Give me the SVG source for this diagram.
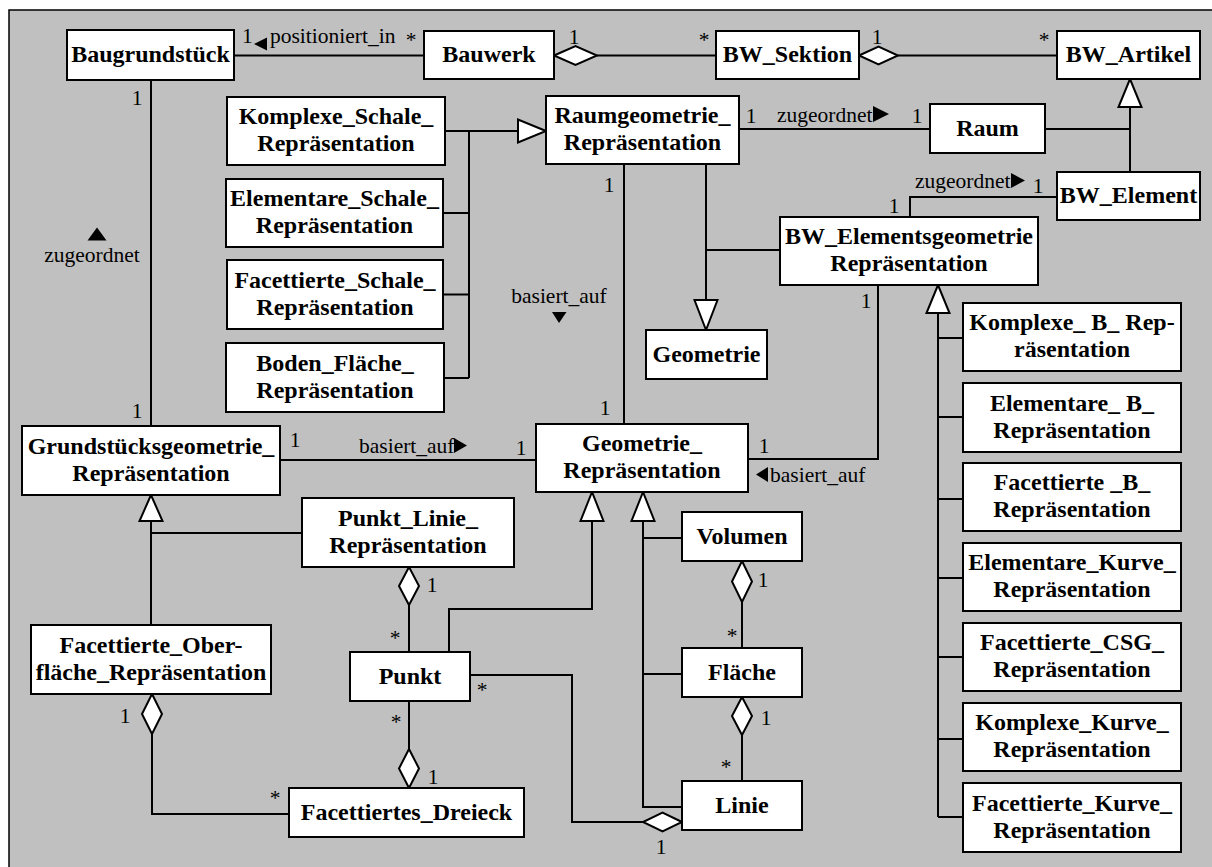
<svg xmlns="http://www.w3.org/2000/svg" width="1212" height="867" viewBox="0 0 1212 867" font-family="'Liberation Serif', 'Times New Roman', serif">
  <style>
    .frame { fill: #c0c0c0; stroke: #000; stroke-width: 1.5; }
    .box { fill: #fff; stroke: #000; stroke-width: 2; }
    .n { font-family: 'Liberation Serif', 'Times New Roman', serif; font-weight: bold; font-size: 24px; text-anchor: middle; fill: #000; }
    .l { font-family: 'Liberation Serif', 'Times New Roman', serif; font-size: 21.5px; fill: #000; }
    .m { text-anchor: middle; }
    .c { fill: none; stroke: #000; stroke-width: 2; }
    .hollow { fill: #fff; stroke: #000; stroke-width: 2; stroke-linejoin: miter; }
    .solid { fill: #000; }
  </style>

  <rect width="1212" height="867" fill="#fff"/>
  <rect class="frame" x="9" y="10" width="1210" height="865"/>

  <!-- connectors -->
  <g id="connectors">
    <!-- top row associations / aggregations -->
    <path class="c" d="M234 55.5 H424"/>
    <path class="c" d="M597 55.5 H716"/>
    <path class="c" d="M898 55.5 H1057"/>
    <polygon class="hollow" points="554,55.5 575.5,46 597,55.5 575.5,65"/>
    <polygon class="hollow" points="859,55.5 878.5,46.5 898,55.5 878.5,64.5"/>

    <!-- Baugrundstück to Grundstücksgeometrie -->
    <path class="c" d="M151 80 V426"/>

    <!-- shell representations generalize Raumgeometrie -->
    <path class="c" d="M445 131 H518"/>
    <path class="c" d="M469 131 V378"/>
    <path class="c" d="M443 213 H469"/>
    <path class="c" d="M443 294.5 H469"/>
    <path class="c" d="M444 378 H469"/>
    <polygon class="hollow" points="546,131 518,119.5 518,142.5"/>

    <!-- Raum / BW_Element / BW_Artikel -->
    <path class="c" d="M739 129 H930"/>
    <path class="c" d="M1045 129 H1130"/>
    <path class="c" d="M1130 107 V172"/>
    <polygon class="hollow" points="1130,79 1118.5,107 1141.5,107"/>
    <path class="c" d="M1057 197 H910 V217"/>

    <!-- Raumgeometrie down -->
    <path class="c" d="M624 164 V424"/>
    <path class="c" d="M706 164 V300"/>
    <path class="c" d="M706 250 H780"/>
    <polygon class="hollow" points="706,330 694.5,300 717.5,300"/>

    <!-- basiert_auf links to Geometrie_Repräsentation -->
    <path class="c" d="M280 460 H536"/>
    <path class="c" d="M748 459 H878 V285"/>

    <!-- BW_Elementsgeometrie specializations -->
    <polygon class="hollow" points="938,285 926.5,313 949.5,313"/>
    <path class="c" d="M938 313 V817"/>
    <path class="c" d="M938 338 H963 M938 417 H963 M938 499 H963 M938 578 H963 M938 657 H963 M938 739 H963 M938 817 H963"/>

    <!-- Grundstücksgeometrie specializations -->
    <polygon class="hollow" points="151,495 139.5,521 162.5,521"/>
    <path class="c" d="M151 521 V625"/>
    <path class="c" d="M151 533 H302"/>

    <!-- Geometrie_Repräsentation specializations -->
    <polygon class="hollow" points="592,492 580.5,521 603.5,521"/>
    <polygon class="hollow" points="643,492 631.5,521 654.5,521"/>
    <path class="c" d="M449 652 V609 H592 V521"/>
    <path class="c" d="M643 521 V807 H682"/>
    <path class="c" d="M643 538 H682"/>
    <path class="c" d="M643 674 H682"/>

    <!-- Punkt aggregations -->
    <polygon class="hollow" points="409,567 419,586 409,605 399,586"/>
    <path class="c" d="M409 605 V652"/>
    <path class="c" d="M409 701 V749"/>
    <polygon class="hollow" points="409,749 419,768.5 409,788 399,768.5"/>
    <path class="c" d="M470 675 H572 V822 H643"/>
    <polygon class="hollow" points="682,822 662.5,812.5 643,822 662.5,831.5"/>

    <!-- Facettierte_Oberfläche aggregation -->
    <polygon class="hollow" points="152,694 162,714 152,734 142,714"/>
    <path class="c" d="M152 734 V814 H289"/>

    <!-- Volumen / Fläche / Linie aggregations -->
    <polygon class="hollow" points="742,561 752,581.5 742,602 732,581.5"/>
    <path class="c" d="M742 602 V648"/>
    <polygon class="hollow" points="742,697 752,716 742,735 732,716"/>
    <path class="c" d="M742 735 V781"/>

    <!-- direction markers -->
    <polygon class="solid" points="254,44 267,37.5 267,50.5"/>
    <polygon class="solid" points="873,106 873,122 889,114"/>
    <polygon class="solid" points="1011,173 1011,188 1025,180.5"/>
    <polygon class="solid" points="97,227.5 87.5,240.5 106.5,240.5"/>
    <polygon class="solid" points="552,312 566.5,312 559,323"/>
    <polygon class="solid" points="454,438 454,453 467,445.5"/>
    <polygon class="solid" points="756,474.5 768,467 768,482"/>

    <!-- multiplicities and role labels -->
    <text class="l" x="242" y="43">1</text>
    <text class="l" x="270" y="43">positioniert_in</text>
    <text class="l m" x="411" y="47">*</text>
    <text class="l m" x="574" y="44">1</text>
    <text class="l m" x="704" y="47">*</text>
    <text class="l m" x="877" y="44">1</text>
    <text class="l m" x="1044" y="47">*</text>
    <text class="l m" x="751" y="123">1</text>
    <text class="l" x="777" y="122">zugeordnet</text>
    <text class="l m" x="917" y="123">1</text>
    <text class="l" x="915" y="188">zugeordnet</text>
    <text class="l m" x="1038" y="193">1</text>
    <text class="l m" x="894" y="213">1</text>
    <text class="l m" x="609" y="192">1</text>
    <text class="l m" x="137" y="105">1</text>
    <text class="l m" x="92" y="262">zugeordnet</text>
    <text class="l m" x="559" y="303">basiert_auf</text>
    <text class="l m" x="866" y="308">1</text>
    <text class="l m" x="137" y="418">1</text>
    <text class="l m" x="605" y="415">1</text>
    <text class="l m" x="295" y="447">1</text>
    <text class="l" x="359" y="453">basiert_auf</text>
    <text class="l m" x="521" y="455">1</text>
    <text class="l m" x="764" y="453">1</text>
    <text class="l" x="770" y="482">basiert_auf</text>
    <text class="l m" x="432" y="592">1</text>
    <text class="l m" x="395" y="645">*</text>
    <text class="l m" x="396" y="729">*</text>
    <text class="l m" x="433" y="784">1</text>
    <text class="l m" x="482" y="697">*</text>
    <text class="l m" x="661" y="854">1</text>
    <text class="l m" x="763" y="587">1</text>
    <text class="l m" x="732" y="643">*</text>
    <text class="l m" x="766" y="725">1</text>
    <text class="l m" x="726" y="774">*</text>
    <text class="l m" x="125" y="723">1</text>
    <text class="l m" x="275" y="805">*</text>
  </g>

  <!-- classes -->
  <g id="Baugrundstueck"><rect class="box" x="67" y="30" width="167" height="50"/><text class="n" x="150.5" y="62">Baugrundstück</text></g>
  <g id="Bauwerk"><rect class="box" x="424" y="31" width="130" height="48"/><text class="n" x="489" y="62">Bauwerk</text></g>
  <g id="BW_Sektion"><rect class="box" x="716" y="31" width="143" height="48"/><text class="n" x="787.5" y="62">BW_Sektion</text></g>
  <g id="BW_Artikel"><rect class="box" x="1057" y="31" width="143" height="48"/><text class="n" x="1128.5" y="62">BW_Artikel</text></g>

  <g id="Komplexe_Schale"><rect class="box" x="227" y="97" width="218" height="68"/><text class="n" x="336" y="124">Komplexe_Schale_</text><text class="n" x="336" y="151">Repräsentation</text></g>
  <g id="Elementare_Schale"><rect class="box" x="226" y="179" width="217" height="68"/><text class="n" x="334.5" y="206">Elementare_Schale_</text><text class="n" x="334.5" y="233">Repräsentation</text></g>
  <g id="Facettierte_Schale"><rect class="box" x="227" y="260" width="216" height="69"/><text class="n" x="335" y="288">Facettierte_Schale_</text><text class="n" x="335" y="315">Repräsentation</text></g>
  <g id="Boden_Flaeche"><rect class="box" x="226" y="343" width="218" height="69"/><text class="n" x="335" y="371">Boden_Fläche_</text><text class="n" x="335" y="398">Repräsentation</text></g>

  <g id="Raumgeometrie"><rect class="box" x="546" y="96" width="193" height="68"/><text class="n" x="642.5" y="123">Raumgeometrie_</text><text class="n" x="642.5" y="150">Repräsentation</text></g>
  <g id="Raum"><rect class="box" x="930" y="104" width="115" height="49"/><text class="n" x="987.5" y="136">Raum</text></g>
  <g id="BW_Element"><rect class="box" x="1057" y="172" width="143" height="48"/><text class="n" x="1128.5" y="203">BW_Element</text></g>
  <g id="BW_Elementsgeometrie"><rect class="box" x="780" y="217" width="258" height="68"/><text class="n" x="909" y="244">BW_Elementsgeometrie</text><text class="n" x="909" y="271">Repräsentation</text></g>
  <g id="Geometrie"><rect class="box" x="646" y="330" width="121" height="49"/><text class="n" x="706.5" y="362">Geometrie</text></g>

  <g id="Grundstuecksgeometrie"><rect class="box" x="22" y="426" width="258" height="69"/><text class="n" x="151" y="454">Grundstücksgeometrie_</text><text class="n" x="151" y="481">Repräsentation</text></g>
  <g id="Geometrie_Repraesentation"><rect class="box" x="536" y="424" width="212" height="68"/><text class="n" x="642" y="451">Geometrie_</text><text class="n" x="642" y="478">Repräsentation</text></g>
  <g id="Punkt_Linie"><rect class="box" x="302" y="498" width="212" height="69"/><text class="n" x="408" y="526">Punkt_Linie_</text><text class="n" x="408" y="553">Repräsentation</text></g>
  <g id="Volumen"><rect class="box" x="682" y="512" width="120" height="49"/><text class="n" x="742" y="544">Volumen</text></g>
  <g id="Facettierte_Oberflaeche"><rect class="box" x="31" y="625" width="240" height="69"/><text class="n" x="151" y="653">Facettierte_Ober-</text><text class="n" x="151" y="680">fläche_Repräsentation</text></g>
  <g id="Punkt"><rect class="box" x="350" y="652" width="120" height="49"/><text class="n" x="410" y="684">Punkt</text></g>
  <g id="Flaeche"><rect class="box" x="682" y="648" width="120" height="49"/><text class="n" x="742" y="680">Fläche</text></g>
  <g id="Linie"><rect class="box" x="682" y="781" width="120" height="49"/><text class="n" x="742" y="813">Linie</text></g>
  <g id="Facettiertes_Dreieck"><rect class="box" x="289" y="788" width="235" height="49"/><text class="n" x="406.5" y="820">Facettiertes_Dreieck</text></g>

  <g id="Komplexe_B"><rect class="box" x="963" y="303" width="218" height="68"/><text class="n" x="1072" y="330">Komplexe_ B_ Rep-</text><text class="n" x="1072" y="357">räsentation</text></g>
  <g id="Elementare_B"><rect class="box" x="963" y="383" width="218" height="69"/><text class="n" x="1072" y="411">Elementare_ B_</text><text class="n" x="1072" y="438">Repräsentation</text></g>
  <g id="Facettierte_B"><rect class="box" x="963" y="463" width="218" height="68"/><text class="n" x="1072" y="490">Facettierte _B_</text><text class="n" x="1072" y="517">Repräsentation</text></g>
  <g id="Elementare_Kurve"><rect class="box" x="963" y="543" width="218" height="68"/><text class="n" x="1072" y="570">Elementare_Kurve_</text><text class="n" x="1072" y="597">Repräsentation</text></g>
  <g id="Facettierte_CSG"><rect class="box" x="963" y="623" width="218" height="68"/><text class="n" x="1072" y="650">Facettierte_CSG_</text><text class="n" x="1072" y="677">Repräsentation</text></g>
  <g id="Komplexe_Kurve"><rect class="box" x="963" y="703" width="218" height="68"/><text class="n" x="1072" y="730">Komplexe_Kurve_</text><text class="n" x="1072" y="757">Repräsentation</text></g>
  <g id="Facettierte_Kurve"><rect class="box" x="963" y="783" width="218" height="69"/><text class="n" x="1072" y="811">Facettierte_Kurve_</text><text class="n" x="1072" y="838">Repräsentation</text></g>
</svg>
